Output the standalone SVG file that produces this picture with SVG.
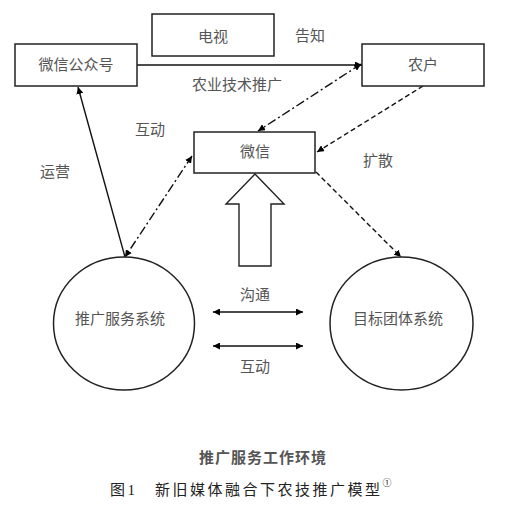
<svg xmlns="http://www.w3.org/2000/svg" width="514" height="506" viewBox="0 0 514 506">
<defs>
<marker id="ah" viewBox="0 0 10 10" refX="10" refY="5" markerWidth="7" markerHeight="7" orient="auto-start-reverse" markerUnits="userSpaceOnUse">
<path d="M0,0 L10,5 L0,10 z" fill="#000"/>
</marker>
<style>
.box{fill:#fff;stroke:#222;stroke-width:1.5}
.t{font-family:"Noto Sans CJK SC","Liberation Sans",sans-serif;font-size:15px;fill:#555;text-anchor:middle;dominant-baseline:central}
.ln{stroke:#111;stroke-width:1.4;fill:none}
.dd{stroke-dasharray:9 3 2 3}
.ds{stroke-dasharray:5 3}
.cap{font-family:"Liberation Serif","Noto Sans CJK SC",serif;font-size:15px;fill:#222;letter-spacing:2.5px;dominant-baseline:central}
</style>
</defs>
<rect width="514" height="506" fill="#fff"/>
<g id="connectors">
<line class="ln" x1="137" y1="65" x2="362" y2="65" marker-end="url(#ah)"/>
<line class="ln dd" x1="361" y1="64" x2="258" y2="131" marker-start="url(#ah)" marker-end="url(#ah)"/>
<line class="ln ds" x1="423" y1="86" x2="317" y2="152" marker-end="url(#ah)"/>
<line class="ln dd" x1="192" y1="156" x2="125" y2="257" marker-start="url(#ah)" marker-end="url(#ah)"/>
<line class="ln ds" x1="316" y1="172" x2="401" y2="257" marker-end="url(#ah)"/>
<line class="ln" x1="125" y1="257" x2="78" y2="87" marker-end="url(#ah)"/>
<line class="ln" x1="213" y1="312" x2="303" y2="312" marker-start="url(#ah)" marker-end="url(#ah)"/>
<line class="ln" x1="213" y1="346" x2="303" y2="346" marker-start="url(#ah)" marker-end="url(#ah)"/>
<polygon points="255,174 284,204 271,204 271,266 239,266 239,204 226,204" fill="#fff" stroke="#222" stroke-width="1.4"/>
</g>
<g id="tv"><rect class="box" x="152" y="14" width="122" height="42"/><text class="t" x="213" y="35">电视</text></g>
<g id="gzh"><rect class="box" x="15" y="44" width="122" height="42"/><text class="t" x="76" y="63">微信公众号</text></g>
<g id="nonghu"><rect class="box" x="362" y="44" width="122" height="42"/><text class="t" x="423" y="63">农户</text></g>
<g id="weixin"><rect class="box" x="194" y="132" width="121" height="41"/><text class="t" x="255" y="150">微信</text></g>
<g id="tuiguang"><ellipse class="box" cx="124" cy="323.5" rx="70.5" ry="66.5"/><text class="t" x="120" y="317">推广服务系统</text></g>
<g id="mubiao"><ellipse class="box" cx="401.5" cy="323.5" rx="71.5" ry="66.5"/><text class="t" x="398" y="317">目标团体系统</text></g>
<g id="labels">
<text class="t" x="310" y="34">告知</text>
<text class="t" x="237" y="83">农业技术推广</text>
<text class="t" x="150" y="128">互动</text>
<text class="t" x="378" y="159">扩散</text>
<text class="t" x="55" y="170">运营</text>
<text class="t" x="255" y="293">沟通</text>
<text class="t" x="255" y="365">互动</text>
<text class="t" x="263" y="456" style="font-weight:bold;letter-spacing:1px">推广服务工作环境</text>
<text class="cap" x="110" y="490">图1　新旧媒体融合下农技推广模型<tspan font-size="9" dy="-7">①</tspan></text>
</g>
</svg>
